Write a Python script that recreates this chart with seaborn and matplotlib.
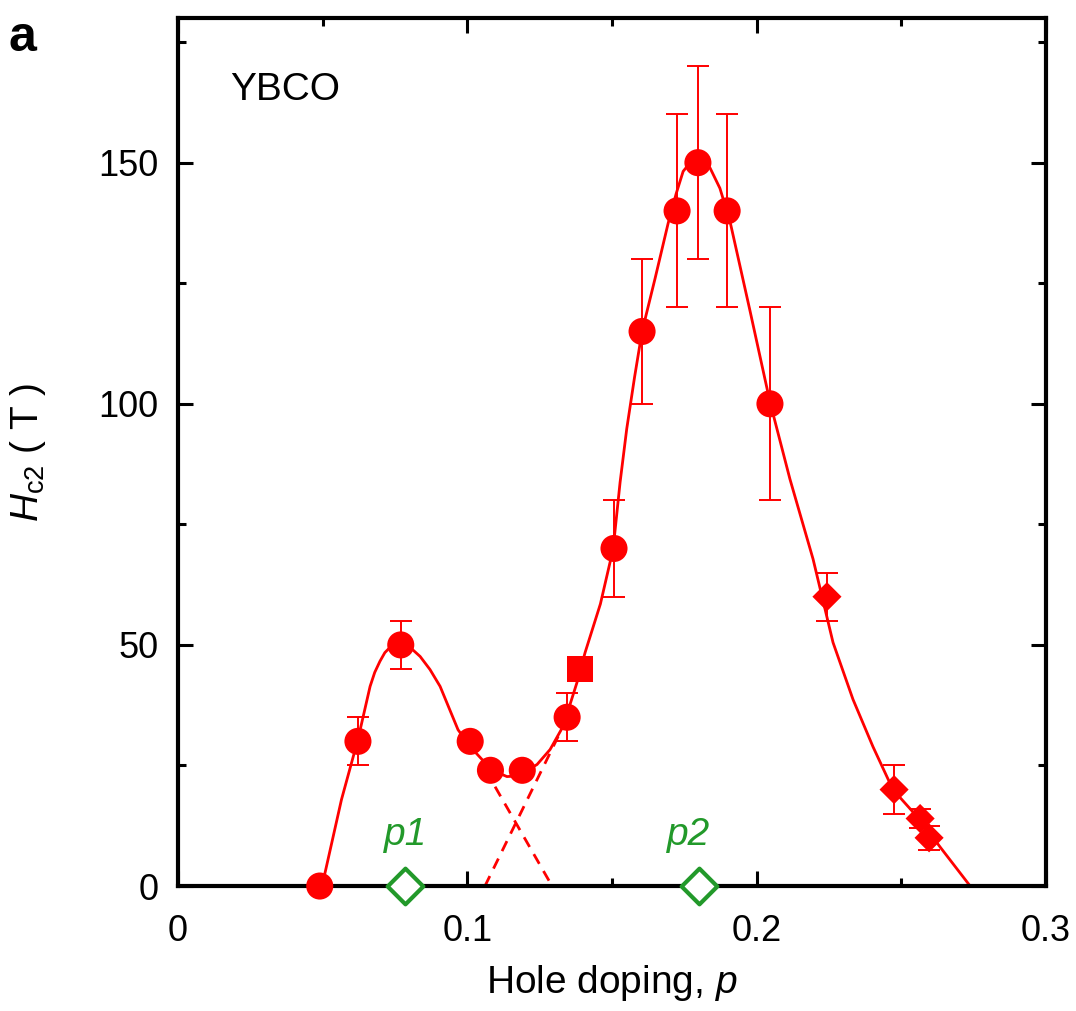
import numpy as np
import pandas as pd
import seaborn as sns
import matplotlib
matplotlib.use("Agg")
import matplotlib.pyplot as plt
from matplotlib.ticker import MultipleLocator

# ---------------- data ----------------
# circles: doping, Hc2, error
circ_p = [0.049, 0.0622, 0.077, 0.101, 0.108, 0.119, 0.1345, 0.1507, 0.1604, 0.1725, 0.1797, 0.1898, 0.2046]
circ_h = [0, 30, 50, 30, 24, 24, 35, 70, 115, 140, 150, 140, 100]
circ_err = [0, 5, 5, 0, 0, 0, 5, 10, 15, 20, 20, 20, 20]

# square
sq_p = [0.139]
sq_h = [45]

# diamonds
dia_p = [0.2243, 0.2475, 0.2565, 0.2596]
dia_h = [60, 20, 14, 10]
dia_err = [5, 5, 2, 2.5]

# green open diamonds (p1, p2)
crit_p = [0.0785, 0.18]
crit_h = [0, 0]
crit_labels = ["p1", "p2"]

# fitted guide curve
fit_p = [0.0498, 0.0565, 0.0622, 0.0664, 0.0680, 0.0698, 0.0715, 0.0733, 0.0750, 0.0767,
         0.0785, 0.0802, 0.0837, 0.0871, 0.0906, 0.0968, 0.1013, 0.1050, 0.1082, 0.1110,
         0.1137, 0.1165, 0.1189, 0.1215, 0.1241, 0.1286, 0.1331, 0.1379, 0.1407, 0.1460,
         0.1504, 0.1528, 0.1551, 0.1578, 0.1604, 0.1649, 0.1694, 0.1722, 0.1746, 0.1770,
         0.1794, 0.1818, 0.1839, 0.1873, 0.1908, 0.1977, 0.2046, 0.2115, 0.2195, 0.2264,
         0.2333, 0.2402, 0.2471, 0.2565, 0.2634, 0.2738]
fit_h = [0, 17.9, 30.4, 41.4, 44.3, 46.6, 48.4, 49.5, 50.0, 50.1,
         49.9, 49.5, 47.6, 44.9, 41.4, 32.4, 28.7, 26.3, 24.5, 23.4,
         22.7, 22.8, 23.7, 24.3, 25.2, 28.3, 33.1, 42.2, 48.4, 58.5,
         69.9, 83.7, 94.8, 105.5, 115, 126, 137.4, 143.6, 148.2, 150.0,
         150.5, 150.0, 148.9, 144.7, 137.8, 119.3, 100.4, 84.4, 67.8, 50.5,
         38.7, 28.9, 20.0, 13.7, 8.1, 0]

# dashed extrapolations
dashA_p = [0.1096, 0.1293]
dashA_h = [20.6, 0]
dashB_p = [0.1331, 0.1061]
dashB_h = [33.1, 0]

# ---------------- style ----------------
sns.set_theme(style="ticks")
plt.rcParams['font.family'] = ['Liberation Sans', 'DejaVu Sans']
plt.rcParams['mathtext.fontset'] = 'custom'
plt.rcParams['mathtext.rm'] = 'Liberation Sans'
plt.rcParams['mathtext.it'] = 'Liberation Sans:italic'
plt.rcParams['text.color'] = 'black'
plt.rcParams['axes.labelcolor'] = 'black'
plt.rcParams['xtick.color'] = 'black'
plt.rcParams['ytick.color'] = 'black'

RED = '#ff0000'
GREEN = '#22992a'

fig = plt.figure(figsize=(10.76, 10.11), dpi=100)
ax = fig.add_axes([0.1654, 0.1236, 0.9721 - 0.1654, 0.9822 - 0.1236])

fit_df = pd.DataFrame({'p': fit_p, 'H': fit_h})
sns.lineplot(data=fit_df, x='p', y='H', ax=ax, color=RED, lw=2.0, estimator=None, sort=False, zorder=2)
sns.lineplot(x=dashA_p, y=dashA_h, ax=ax, color=RED, lw=2.0, linestyle=(0, (4, 3)), zorder=2)
sns.lineplot(x=dashB_p, y=dashB_h, ax=ax, color=RED, lw=2.0, linestyle=(0, (4, 3)), zorder=2)

# error bars
ax.errorbar(circ_p, circ_h, yerr=circ_err, fmt='none', ecolor=RED, elinewidth=1.4, capsize=8, capthick=1.4, zorder=3)
ax.errorbar(dia_p, dia_h, yerr=dia_err, fmt='none', ecolor=RED, elinewidth=1.4, capsize=8, capthick=1.4, zorder=3)

sns.scatterplot(x=circ_p, y=circ_h, ax=ax, marker='o', s=380, color=RED, edgecolor='none', zorder=5, clip_on=False)
sns.scatterplot(x=sq_p, y=sq_h, ax=ax, marker='s', s=340, color=RED, edgecolor='none', zorder=5)
sns.scatterplot(x=dia_p, y=dia_h, ax=ax, marker='D', s=220, color=RED, edgecolor='none', zorder=5)
sns.scatterplot(x=crit_p, y=crit_h, ax=ax, marker='D', s=330, facecolor='white', edgecolor=GREEN,
                linewidth=3, zorder=6, clip_on=False)

label_shift = [0.0003, -0.0035]
for p, lab, dx in zip(crit_p, crit_labels, label_shift):
    ax.text(p + dx, 10.5, lab, color=GREEN, fontsize=28, style='italic', ha='center', va='center')

ax.text(0.018, 165, 'YBCO', fontsize=28, ha='left', va='center')
fig.text(0.008, 0.985, 'a', fontsize=36, fontweight='bold', ha='left', va='top')

ax.set_xlim(0, 0.3)
ax.set_ylim(0, 180)
ax.set_xticks([0, 0.1, 0.2, 0.3])
ax.set_xticklabels(['0', '0.1', '0.2', '0.3'])
ax.set_yticks([0, 50, 100, 150])
ax.xaxis.set_minor_locator(MultipleLocator(0.05))
ax.yaxis.set_minor_locator(MultipleLocator(25))
ax.tick_params(which='both', direction='in', top=True, right=True, width=2.2, color='black')
ax.tick_params(which='major', length=11, labelsize=26)
ax.tick_params(axis='x', which='major', pad=20)
ax.tick_params(axis='y', which='major', pad=14)
ax.tick_params(which='minor', length=5.5)
for s in ax.spines.values():
    s.set_linewidth(3)
    s.set_color('black')
    s.set_visible(True)

ax.set_xlabel('Hole doping, $p$', fontsize=28, labelpad=10)
ax.set_ylabel('$H_{\\mathrm{c2}}$ ( T )', fontsize=28)
ax.yaxis.set_label_coords(-0.15, 0.5)

fig.savefig('out.png', dpi=100)
